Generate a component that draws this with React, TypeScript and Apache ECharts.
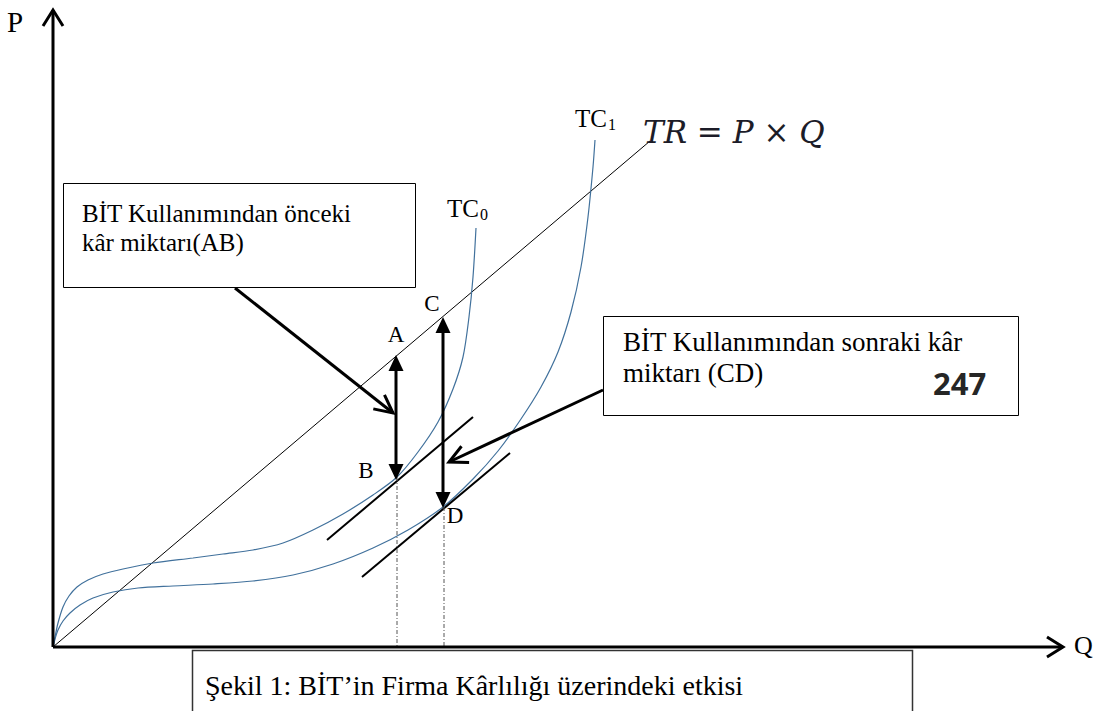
import React, { useEffect, useRef } from "react";
import * as echarts from "echarts";

// Coordinates: Q to the right, P upward; origin at the axes' corner.
const trLine = [[0, 0], [597, 506]];
const tc0 = [
  [0, 0], [2, 10], [5, 24], [10, 40], [16, 51], [24, 60], [35, 67], [50, 73], [70, 78],
  [100, 84], [140, 89], [170, 93], [200, 97], [230, 104], [260, 117], [290, 133],
  [320, 152], [344, 170], [365, 195], [385, 225], [400, 258], [410, 290], [416, 330],
  [420, 370], [423, 419],
];
const tc1 = [
  [0, 0], [2, 8], [5, 17], [10, 26], [17, 34], [27, 42], [40, 49], [60, 55], [85, 59],
  [120, 61], [160, 63], [200, 66], [240, 72], [280, 83], [320, 99], [355, 117], [390, 140],
  [420, 168], [445, 196], [468, 228], [488, 260], [505, 295], [518, 335], [528, 380],
  [535, 430], [540, 480], [542, 507],
];
const tangentB = [[274, 107], [420, 230]];
const tangentD = [[309, 70], [457, 194]];
const dropB = [[344, 170], [344, 0]];
const dropD = [[391, 140], [391, 0]];
// [x1, y1, x2, y2, kind]  kind 0 = open head at end, 1 = filled heads at both ends
const axisArrows = [[0, 0, 0, 637, 0], [0, 0, 1010, 0, 0]];
const profitArrows = [[343, 292, 343, 167, 1], [390, 330, 390, 139, 1]];
const pointerArrows = [[182, 359, 340, 234, 0], [550, 257, 396, 185, 0]];
const pointLabels: [string, number, number][] = [
  ["A", 343, 313], ["B", 313, 177], ["C", 379, 344], ["D", 402, 132],
];

const SERIF = '"Liberation Serif", "Times New Roman", serif';
const BLUE = "#41719c";

function arrowRenderer(headLen: number, headHalf: number, width: number) {
  return (params: any, api: any) => {
    const p1 = api.coord([api.value(0), api.value(1)]);
    const p2 = api.coord([api.value(2), api.value(3)]);
    const kind = api.value(4);
    const dx = p2[0] - p1[0];
    const dy = p2[1] - p1[1];
    const L = Math.hypot(dx, dy) || 1;
    const ux = dx / L, uy = dy / L;
    const nx = -uy, ny = ux;
    const children: any[] = [];
    if (kind === 1) {
      const s = [p1[0] + ux * headLen * 0.8, p1[1] + uy * headLen * 0.8];
      const e = [p2[0] - ux * headLen * 0.8, p2[1] - uy * headLen * 0.8];
      children.push({
        type: "line",
        shape: { x1: s[0], y1: s[1], x2: e[0], y2: e[1] },
        style: { stroke: "#000", lineWidth: width },
      });
      const head = (tip: number[], sx: number, sy: number) => ({
        type: "polygon",
        shape: {
          points: [
            tip,
            [tip[0] - sx * headLen + nx * headHalf, tip[1] - sy * headLen + ny * headHalf],
            [tip[0] - sx * headLen - nx * headHalf, tip[1] - sy * headLen - ny * headHalf],
          ],
        },
        style: { fill: "#000" },
      });
      children.push(head(p2, ux, uy));
      children.push(head(p1, -ux, -uy));
    } else {
      children.push({
        type: "line",
        shape: { x1: p1[0], y1: p1[1], x2: p2[0], y2: p2[1] },
        style: { stroke: "#000", lineWidth: width, lineCap: "butt" },
      });
      children.push({
        type: "polyline",
        shape: {
          points: [
            [p2[0] - ux * headLen + nx * headHalf, p2[1] - uy * headLen + ny * headHalf],
            p2,
            [p2[0] - ux * headLen - nx * headHalf, p2[1] - uy * headLen - ny * headHalf],
          ],
        },
        style: { stroke: "#000", lineWidth: width, fill: "none", lineJoin: "miter" },
      });
    }
    return { type: "group", children };
  };
}

function txt(
  text: string, x: number, y: number, size: number, family = SERIF, extra: any = {}
) {
  return {
    type: "text",
    z: 20,
    style: {
      text,
      x,
      y,
      fontSize: size,
      fontFamily: family,
      fill: "#000",
      textVerticalAlign: "middle",
      verticalAlign: "middle",
      ...extra,
    },
  };
}

function box(x: number, y: number, w: number, h: number, stroke = "#000", lw = 1) {
  return {
    type: "rect",
    z: 15,
    shape: { x, y, width: w, height: h },
    style: { fill: "#fff", stroke, lineWidth: lw },
  };
}

export default function App() {
  const ref = useRef<HTMLDivElement>(null);
  useEffect(() => {
    const chart = echarts.init(ref.current!, null, { renderer: "svg" });
    const option: any = {
      animation: false,
      backgroundColor: "#fff",
      grid: { left: 0, right: 0, top: 0, bottom: 0 },
      xAxis: { type: "value", min: -53, max: 1044, show: false },
      yAxis: { type: "value", min: -64, max: 647, show: false },
      series: [
        {
          type: "line", data: trLine, symbol: "none", silent: true,
          lineStyle: { color: "#000", width: 1 },
        },
        {
          type: "line", data: tc0, symbol: "none", smooth: 0.3,
          lineStyle: { color: BLUE, width: 1.2 },
        },
        {
          type: "line", data: tc1, symbol: "none", smooth: 0.3,
          lineStyle: { color: BLUE, width: 1.2 },
        },
        { type: "line", data: tangentB, symbol: "none", lineStyle: { color: "#000", width: 2 } },
        { type: "line", data: tangentD, symbol: "none", lineStyle: { color: "#000", width: 2 } },
        {
          type: "line", data: dropB, symbol: "none",
          lineStyle: { color: "#555", width: 1, type: [4, 2, 1, 2] },
        },
        {
          type: "line", data: dropD, symbol: "none",
          lineStyle: { color: "#555", width: 1, type: [4, 2, 1, 2] },
        },
        {
          type: "custom", data: axisArrows, renderItem: arrowRenderer(16, 10, 3), z: 5,
        },
        {
          type: "custom", data: profitArrows, renderItem: arrowRenderer(16, 7.5, 3), z: 5,
        },
        {
          type: "custom", data: pointerArrows, renderItem: arrowRenderer(18, 9, 3), z: 5,
        },
        {
          type: "custom",
          data: pointLabels.map((d) => [d[1], d[2]]),
          renderItem: (params: any, api: any) => {
            const p = api.coord([api.value(0), api.value(1)]);
            return {
              type: "text",
              style: {
                text: pointLabels[params.dataIndex][0],
                x: p[0],
                y: p[1],
                fontSize: 23,
                fontFamily: SERIF,
                fill: "#000",
                textAlign: "center",
                align: "center",
                textVerticalAlign: "middle",
                verticalAlign: "middle",
              },
            };
          },
        },
      ],
      graphic: [
        box(63.5, 183.5, 352, 104),
        box(603.5, 316.5, 415, 99),
        box(192.5, 650.5, 720, 80, "#333", 1.5),
        txt("P", 7, 22, 29),
        txt("Q", 1074, 645, 26),
        txt("TC", 447, 208, 25),
        txt("0", 480, 214, 16),
        txt("TC", 575, 118, 25),
        txt("1", 608, 124, 16),
        txt("TR = P × Q", 643, 132, 31, '"DejaVu Serif", serif', { fill: "#1c1c28", fontStyle: "italic" }),
        txt("BİT Kullanımından önceki", 82, 213, 25),
        txt("kâr miktarı(AB)", 82, 242, 25),
        txt("BİT Kullanımından sonraki kâr", 623, 342, 27),
        txt("miktarı (CD)", 623, 373, 27),
        txt("247", 933, 383, 31, '"Open Sans", sans-serif', { fill: "#262626", fontWeight: "bold" }),
        txt("Şekil 1: BİT’in Firma Kârlılığı üzerindeki etkisi", 205, 685, 28),
      ],
    };
    chart.setOption(option);
    return () => chart.dispose();
  }, []);
  return (
    <div
      ref={ref}
      style={{ position: "fixed", left: 0, top: 0, width: 1097, height: 711, background: "#fff" }}
    />
  );
}
